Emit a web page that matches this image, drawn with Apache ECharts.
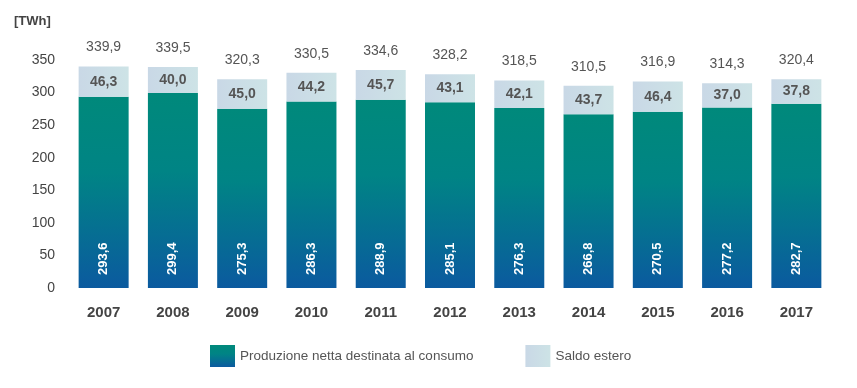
<!DOCTYPE html>
<html><head><meta charset="utf-8">
<script src="https://cdn.jsdelivr.net/npm/echarts@6/dist/echarts.min.js"></script>
<style>html,body{margin:0;padding:0;background:#fff}#c{width:857px;height:388px}</style>
</head><body><div id="c"></div>
<script>
const years = ['2007','2008','2009','2010','2011','2012','2013','2014','2015','2016','2017'];
const produzione = [293.6,299.4,275.3,286.3,288.9,285.1,276.3,266.8,270.5,277.2,282.7];
const saldo = [46.3,40.0,45.0,44.2,45.7,43.1,42.1,43.7,46.4,37.0,37.8];
const totali = [339.9,339.5,320.3,330.5,334.6,328.2,318.5,310.5,316.9,314.3,320.4];
const yTicks = [0,50,100,150,200,250,300,350];

const fmt = v => v.toFixed(1).replace('.', ',');
const font = 'Liberation Sans, Arial, sans-serif';
const prodColor = {type:'linear',x:0,y:0,x2:0,y2:1,colorStops:[
  {offset:0,color:'#00897b'},{offset:0.4,color:'#008485'},{offset:1,color:'#0b5a9f'}]};
const saldoColor = {type:'linear',x:0,y:0,x2:1,y2:0,colorStops:[
  {offset:0,color:'#c9d8e6'},{offset:1,color:'#cde3e6'}]};

const chart = echarts.init(document.getElementById('c'));
chart.setOption({
  animation:false,
  grid:{left:69,right:26,top:60,bottom:100},
  graphic:[{type:'text',left:14,top:15,style:{text:'[TWh]',font:'bold 13px '+font,fill:'#444'}}],
  legend:{
    bottom:16,left:205,itemWidth:25,itemHeight:22,itemGap:52,
    textStyle:{fontFamily:font,fontSize:13.5,color:'#555'},
    icon:'rect',
    data:[{name:'Produzione netta destinata al consumo',itemStyle:{color:prodColor}},
          {name:'Saldo estero',itemStyle:{color:saldoColor}}]
  },
  xAxis:{type:'category',data:years,
    axisLine:{show:false},axisTick:{show:false},
    axisLabel:{fontFamily:font,fontSize:15,fontWeight:'bold',color:'#444',margin:17}},
  yAxis:{type:'value',min:0,max:350,interval:50,
    splitLine:{show:false},axisLine:{show:false},axisTick:{show:false},
    axisLabel:{fontFamily:font,fontSize:14,color:'#444',margin:14,
      formatter:v=>yTicks.includes(v)?String(v):''}},
  series:[
    {name:'Produzione netta destinata al consumo',type:'bar',stack:'t',barWidth:50,
     data:produzione,itemStyle:{color:prodColor},
     label:{show:true,position:'insideBottom',rotate:90,align:'left',verticalAlign:'middle',distance:13,
       formatter:p=>fmt(p.value),fontFamily:font,fontSize:13,fontWeight:'bold',color:'#fff'}},
    {name:'Saldo estero',type:'bar',stack:'t',barWidth:50,
     data:saldo,itemStyle:{color:saldoColor},
     label:{show:true,position:'inside',formatter:p=>fmt(p.value),
       fontFamily:font,fontSize:14,fontWeight:'bold',color:'#555'}},
    {name:'Totale',type:'bar',stack:'t',barWidth:50,data:totali.map(()=>0),
     itemStyle:{color:'transparent'},
     label:{show:true,position:'top',distance:12,formatter:p=>fmt(totali[p.dataIndex]),
       fontFamily:font,fontSize:14,color:'#555'}}
  ]
});
</script></body></html>
